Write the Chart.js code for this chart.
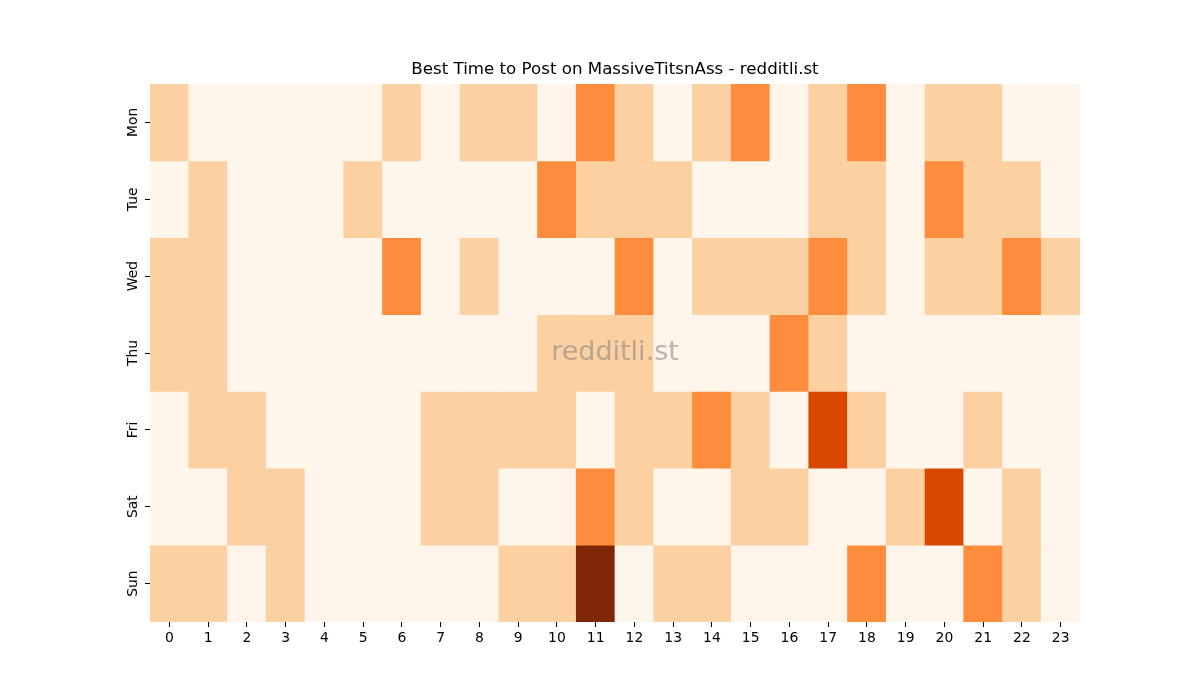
<!DOCTYPE html>
<html>
<head>
<meta charset="utf-8">
<script src="https://cdn.jsdelivr.net/npm/chart.js@4"></script>
<style>
  html, body { margin: 0; padding: 0; background: #fff; }
  #wrap { width: 1200px; height: 700px; }
</style>
</head>
<body>
<div id="wrap"><canvas id="c" width="1200" height="700"></canvas></div>
<script>
// ---- data (activity level per day/hour, 0 = lowest) ----
const hours = ['0','1','2','3','4','5','6','7','8','9','10','11','12','13','14','15','16','17','18','19','20','21','22','23'];
const days = ['Mon','Tue','Wed','Thu','Fri','Sat','Sun'];
const mon = [1,0,0,0,0,0,1,0,1,1,0,2,1,0,1,2,0,1,2,0,1,1,0,0];
const tue = [0,1,0,0,0,1,0,0,0,0,2,1,1,1,0,0,0,1,1,0,2,1,1,0];
const wed = [1,1,0,0,0,0,2,0,1,0,0,0,2,0,1,1,1,2,1,0,1,1,2,1];
const thu = [1,1,0,0,0,0,0,0,0,0,1,1,1,0,0,0,2,1,0,0,0,0,0,0];
const fri = [0,1,1,0,0,0,0,1,1,1,1,0,1,1,2,1,0,3,1,0,0,1,0,0];
const sat = [0,0,1,1,0,0,0,1,1,0,0,2,1,0,0,1,1,0,0,1,3,0,1,0];
const sun = [1,1,0,1,0,0,0,0,0,1,1,4,0,1,1,0,0,0,2,0,0,2,1,0];
const rows = [mon, tue, wed, thu, fri, sat, sun];
const palette = ['#fff5eb','#fdd0a2','#fd8d3c','#d94801','#7f2704'];

const datasets = rows.map((vals, r) => ({
  label: days[r],
  data: vals.map(() => [r, r + 1]),
  backgroundColor: vals.map(v => palette[v]),
  borderWidth: 0,
  grouped: false,
  barPercentage: 1.0,
  categoryPercentage: 1.0
}));

const watermark = {
  id: 'watermark',
  afterDatasetsDraw(chart) {
    const {ctx, chartArea: a} = chart;
    ctx.save();
    ctx.font = '27px "DejaVu Sans"';
    ctx.fillStyle = 'rgba(128,128,128,0.55)';
    ctx.textAlign = 'center';
    ctx.textBaseline = 'middle';
    ctx.fillText('redditli.st', (a.left + a.right) / 2, (a.top + a.bottom) / 2);
    ctx.restore();
  }
};

const tickFont = { family: 'DejaVu Sans', size: 13.9 };

new Chart(document.getElementById('c'), {
  type: 'bar',
  data: { labels: hours, datasets },
  plugins: [watermark],
  options: {
    responsive: false,
    animation: false,
    layout: { padding: { left: 120, right: 90, top: 0, bottom: 0 } },
    plugins: {
      legend: { display: false },
      tooltip: { enabled: false },
      title: {
        display: true,
        text: 'Best Time to Post on MassiveTitsnAss - redditli.st',
        color: '#000',
        font: { family: 'DejaVu Sans', size: 16.67, weight: 'normal', lineHeight: 1.2 },
        padding: { top: 60, bottom: 4 }
      }
    },
    scales: {
      x: {
        type: 'category',
        offset: true,
        grid: { display: true, drawOnChartArea: false, offset: false, tickLength: 5, color: '#000', lineWidth: 1 },
        border: { display: false },
        ticks: { color: '#000', font: tickFont, padding: 3, maxRotation: 0, minRotation: 0, autoSkip: false },
        afterFit(s) { s.height = 78; }
      },
      y: {
        type: 'linear',
        min: 0,
        max: 7,
        reverse: true,
        grid: { display: true, drawOnChartArea: false, tickLength: 5, color: '#000', lineWidth: 1 },
        border: { display: false },
        afterBuildTicks(s) { s.ticks = days.map((d, i) => ({ value: i + 0.5 })); },
        ticks: {
          color: '#000',
          font: tickFont,
          minRotation: 90,
          maxRotation: 90,
          crossAlign: 'center',
          padding: -4,
          callback: (v) => days[Math.floor(v)]
        },
        afterFit(s) { s.width = 30; }
      },
      yRight: {
        type: 'linear',
        position: 'right',
        min: 0,
        max: 7,
        grid: { display: false },
        border: { display: false },
        ticks: { display: false },
        afterFit(s) { s.width = 30; }
      }
    }
  }
});
</script>
</body>
</html>
